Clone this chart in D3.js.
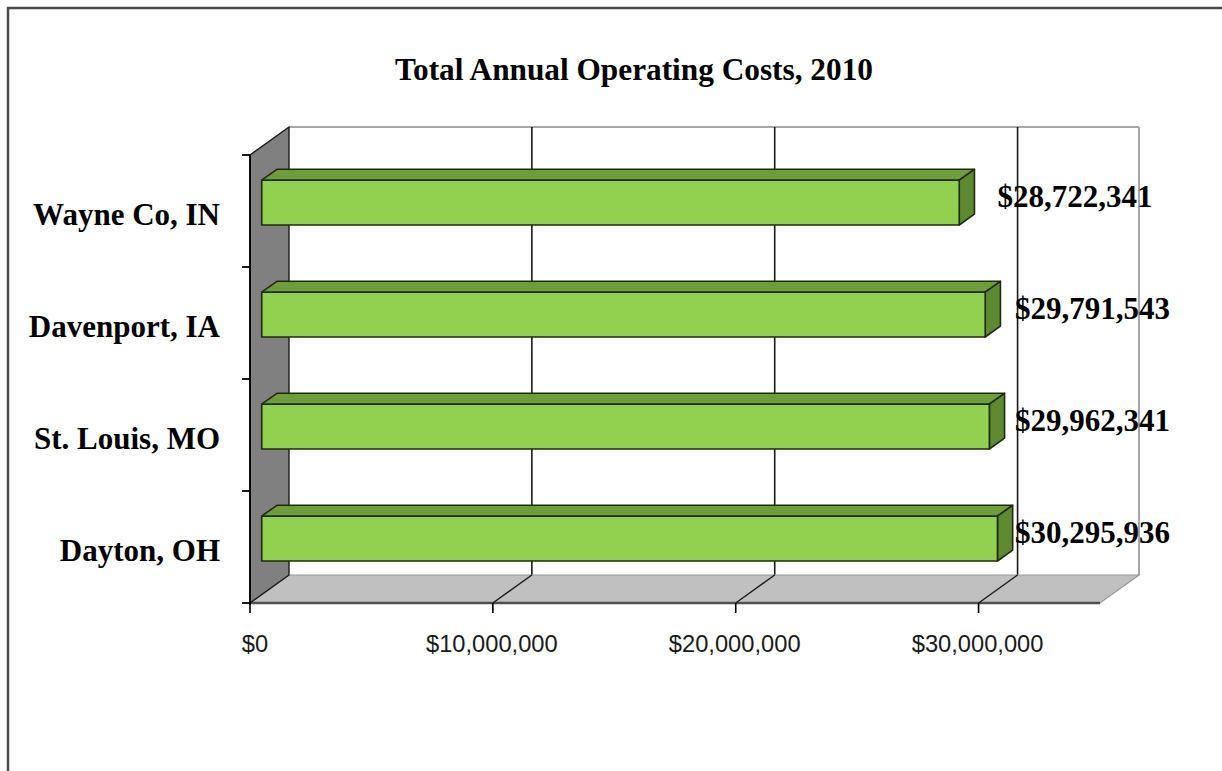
<!DOCTYPE html>
<html>
<head>
<meta charset="utf-8">
<script src="https://cdn.jsdelivr.net/npm/d3@7/dist/d3.min.js"></script>
<style>
html,body{margin:0;padding:0;background:#fff;}
svg{display:block;}
</style>
</head>
<body>
<svg id="chart" width="1222" height="771"></svg>
<script>
// ---- data ----
const categories = ["Wayne Co, IN", "Davenport, IA", "St. Louis, MO", "Dayton, OH"];
const costs = [28722341, 29791543, 29962341, 30295936];
const xTicks = [0, 10000000, 20000000, 30000000];
const chartTitle = "Total Annual Operating Costs, 2010";

// ---- layout ----
const W = 1222, H = 771;
const svg = d3.select("#chart");
const DX = 39, DY = -28;           // depth offset of the 3D box
const barD0 = 0.30, barD1 = 0.69;  // bar depth range (fraction of depth)

const x = d3.scaleLinear().domain([0, 35000000]).range([250, 1100]);
const y = d3.scaleBand().domain(categories).range([155, 603])
  .paddingInner(0.6).paddingOuter(0.3);
const P = (px, py, d) => [px + d * DX, py + d * DY];
const poly = pts => pts.map(p => p.join(",")).join(" ");

const x0 = x.range()[0], x1 = x.range()[1];
const yTop = y.range()[0], yBot = y.range()[1];

// outer frame
svg.append("rect").attr("x", 8).attr("y", 8).attr("width", 1400).attr("height", 1000)
  .attr("fill", "none").attr("stroke", "#4a4a4a").attr("stroke-width", 2.5);

// back wall
const bw = [P(x0, yTop, 1), P(x1, yTop, 1), P(x1, yBot, 1), P(x0, yBot, 1)];
svg.append("polygon").attr("points", poly(bw)).attr("fill", "#fff");
svg.append("line").attr("x1", bw[0][0]).attr("y1", bw[0][1]).attr("x2", bw[1][0]).attr("y2", bw[1][1])
  .attr("stroke", "#a6a6a6").attr("stroke-width", 2);
svg.append("line").attr("x1", bw[1][0]).attr("y1", bw[1][1]).attr("x2", bw[2][0]).attr("y2", bw[2][1])
  .attr("stroke", "#a6a6a6").attr("stroke-width", 2);

// back wall gridlines
svg.append("g").selectAll("line").data(xTicks.slice(1)).join("line")
  .attr("x1", d => P(x(d), yTop, 1)[0]).attr("y1", P(0, yTop, 1)[1])
  .attr("x2", d => P(x(d), yBot, 1)[0]).attr("y2", P(0, yBot, 1)[1])
  .attr("stroke", "#1a1a1a").attr("stroke-width", 1.6);

// floor
const fl = [P(x0, yBot, 0), P(x1, yBot, 0), P(x1, yBot, 1), P(x0, yBot, 1)];
svg.append("polygon").attr("points", poly(fl)).attr("fill", "#c0c0c0")
  .attr("stroke", "#9a9a9a").attr("stroke-width", 1.2);
svg.append("line").attr("x1", fl[0][0]).attr("y1", fl[0][1]).attr("x2", fl[1][0]).attr("y2", fl[1][1])
  .attr("stroke", "#505050").attr("stroke-width", 2.5);
// floor gridlines
svg.append("g").selectAll("line").data(xTicks.slice(1)).join("line")
  .attr("x1", d => P(x(d), yBot, 0)[0]).attr("y1", P(0, yBot, 0)[1])
  .attr("x2", d => P(x(d), yBot, 1)[0]).attr("y2", P(0, yBot, 1)[1])
  .attr("stroke", "#1a1a1a").attr("stroke-width", 1.4);

// left wall
const lw = [P(x0, yTop, 0), P(x0, yTop, 1), P(x0, yBot, 1), P(x0, yBot, 0)];
svg.append("polygon").attr("points", poly(lw)).attr("fill", "#808080")
  .attr("stroke", "#1a1a1a").attr("stroke-width", 1.4).attr("stroke-linejoin", "round");

// bars
const barG = svg.append("g");
categories.forEach((c, i) => {
  const v = costs[i];
  const t = y(c), b = y(c) + y.bandwidth();
  const xa = x(0), xb = x(v);
  const front = [P(xa, t, barD0), P(xb, t, barD0), P(xb, b, barD0), P(xa, b, barD0)];
  const top = [P(xa, t, barD0), P(xa, t, barD1), P(xb, t, barD1), P(xb, t, barD0)];
  const side = [P(xb, t, barD0), P(xb, t, barD1), P(xb, b, barD1), P(xb, b, barD0)];
  const g = barG.append("g").attr("stroke", "#1e2a10").attr("stroke-width", 1.6).attr("stroke-linejoin", "round");
  g.append("polygon").attr("points", poly(top)).attr("fill", "#6e9e3c");
  g.append("polygon").attr("points", poly(side)).attr("fill", "#5d8a30");
  g.append("polygon").attr("points", poly(front)).attr("fill", "#92d050");
});

// category axis line + ticks
svg.append("line").attr("x1", x0).attr("y1", yTop).attr("x2", x0).attr("y2", yBot + 2)
  .attr("stroke", "#000").attr("stroke-width", 1.8);
const catTicks = categories.map(c => y(c) - y.step() * y.paddingOuter()).concat([yBot]);
svg.append("g").selectAll("line").data(catTicks).join("line")
  .attr("x1", x0 - 8).attr("x2", x0).attr("y1", d => d).attr("y2", d => d)
  .attr("stroke", "#000").attr("stroke-width", 1.8);

// value axis ticks
svg.append("g").selectAll("line").data(xTicks).join("line")
  .attr("x1", d => x(d)).attr("x2", d => x(d)).attr("y1", yBot).attr("y2", yBot + 10)
  .attr("stroke", "#000").attr("stroke-width", 1.6);

const fmtTick = d3.format("$,.0f");
svg.append("g").selectAll("text").data(xTicks).join("text")
  .attr("x", d => x(d) + (d === 0 ? 5 : -1)).attr("y", 652)
  .attr("text-anchor", "middle")
  .attr("font-family", "'Liberation Sans', Arial, sans-serif").attr("font-size", 23.7)
  .attr("fill", "#1a1a1a")
  .text(d => fmtTick(d));

// category labels
svg.append("g").selectAll("text").data(categories).join("text")
  .attr("x", 220)
  .attr("y", d => y(d) + y.bandwidth() / 2 + 14)
  .attr("text-anchor", "end")
  .attr("font-family", "'Liberation Serif', 'Times New Roman', serif")
  .attr("font-weight", "bold").attr("font-size", 31)
  .attr("fill", "#000")
  .text(d => d);

// value labels
const fmtVal = d3.format("$,.0f");
svg.append("g").selectAll("text").data(categories).join("text")
  .attr("x", (d, i) => Math.min(P(x(costs[i]), 0, barD1)[0] + 23, 1015))
  .attr("y", (d, i) => P(0, y(d) + y.bandwidth() / 2, barD0)[1] + 4)
  .attr("text-anchor", "start")
  .attr("font-family", "'Liberation Serif', 'Times New Roman', serif")
  .attr("font-weight", "bold").attr("font-size", 31)
  .attr("fill", "#000")
  .text((d, i) => fmtVal(costs[i]));

// title
svg.append("text").attr("x", 634).attr("y", 80).attr("text-anchor", "middle")
  .attr("font-family", "'Liberation Serif', 'Times New Roman', serif")
  .attr("font-weight", "bold").attr("font-size", 31.3).attr("fill", "#000")
  .text(chartTitle);
</script>
</body>
</html>
